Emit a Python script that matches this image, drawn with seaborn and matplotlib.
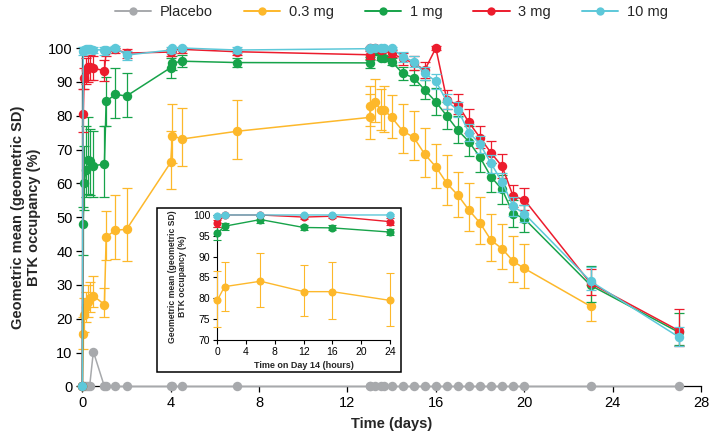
import numpy as np
import pandas as pd
import matplotlib
matplotlib.use('Agg')
import matplotlib.pyplot as plt
from matplotlib.lines import Line2D
from matplotlib.patches import Rectangle
import seaborn as sns

nan = np.nan

# ---- main panel data (days) ----
days = [0, 0.04, 0.08, 0.17, 0.25, 0.33, 0.5, 1.0, 1.08, 1.5, 2.0, 4.0, 4.08, 4.5, 7.0,
        13.0, 13.04, 13.25, 13.5, 13.67, 14.0, 14.5, 15.0, 15.5, 16.0, 16.5, 17.0, 17.5,
        18.0, 18.5, 19.0, 19.5, 20.0, 23.0, 27.0]

placebo = [0, 0, 0, 0, 0, 0, 10.3, 0, 0, 0, 0, 0, 0, 0, 0,
           0, 0, 0, 0, 0, 0, 0, 0, 0, 0, 0, 0, 0,
           0, 0, 0, 0, 0, 0, 0]

dose03 = [0, 15.6, 21.0, 23.5, 25.0, 26.0, 26.8, 24.2, 44.2, 46.2, 46.4, 66.2, 74.1, 73.1, 75.4,
          79.5, 82.8, 84.1, 81.6, 81.6, 79.5, 75.5, 73.6, 68.6, 64.9, 60.0, 56.5, 52.1,
          48.3, 43.2, 40.7, 37.0, 34.9, 23.7, nan]
dose03_lo = [nan, 11.0, 16.0, 19.0, 20.5, 22.0, 23.5, 20.5, 37.3, 37.8, 37.0, 58.2, 66.0, 65.2, 67.3,
             73.2, 77.0, 78.0, 75.8, 75.1, 73.4, 69.0, 67.0, 62.0, 58.6, 53.5, 50.0, 46.0,
             42.0, 37.0, 34.6, 31.0, 29.0, 19.3, nan]
dose03_hi = [nan, 20.5, 26.0, 28.0, 30.0, 31.0, 32.5, 29.0, 51.9, 56.5, 58.5, 75.5, 83.6, 82.3, 84.6,
             86.5, 88.8, 90.9, 87.9, 88.8, 86.0, 83.5, 81.5, 76.5, 71.6, 68.3, 63.4, 60.1,
             56.0, 51.0, 48.0, 44.5, 42.0, 29.9, nan]

dose1 = [0, 48.0, 60.0, 64.0, 67.0, 66.5, 65.2, 65.7, 84.3, 86.3, 85.8, 94.2, 95.5, 96.1, 95.7,
         95.6, 97.3, 99.0, 97.1, 97.0, 96.0, 92.5, 91.2, 87.6, 84.1, 79.9, 75.7, 72.3,
         67.7, 61.9, 58.2, 51.1, 49.6, 29.9, 16.0]
dose1_lo = [nan, 38.7, 52.0, 56.0, 57.0, 56.5, 56.0, 56.0, 76.9, 79.2, 79.7, 91.2, 93.5, 94.3, 94.3,
            94.0, 96.5, 98.0, 96.5, 96.3, 95.0, 90.5, 89.0, 85.0, 80.2, 76.0, 72.0, 68.0,
            63.5, 57.5, 54.0, 47.0, 45.5, 24.9, 12.4]
dose1_hi = [nan, 53.0, 71.0, 77.0, 79.5, 76.0, 75.5, 77.0, 91.5, 94.0, 92.5, 97.0, 97.5, 98.0, 97.0,
            97.3, 98.2, 99.8, 97.8, 97.6, 97.0, 94.5, 93.5, 90.5, 88.1, 84.0, 80.0, 77.0,
            72.0, 66.0, 62.5, 55.0, 53.5, 35.6, 21.6]

dose3 = [0, 80.6, 91.2, 93.5, 94.3, 94.5, 94.0, 93.3, 99.0, 99.6, 98.5, 98.8, 99.5, 99.6, 98.9,
         98.0, 100.0, 100.0, 99.5, 99.7, 98.4, 96.9, 95.5, 93.5, 100.0, 84.6, 83.2, 78.0,
         73.5, 69.0, 65.0, 56.2, 55.2, 30.5, 16.5]
dose3_lo = [nan, 75.2, 88.0, 89.5, 90.0, 90.5, 90.5, 90.2, 97.5, 98.5, 97.0, 97.5, 98.5, 98.5, 97.8,
            96.8, 99.6, 99.6, 98.8, 99.1, 97.2, 95.0, 93.5, 91.0, 99.5, 82.0, 80.5, 75.0,
            70.5, 66.0, 61.5, 53.0, 52.0, 26.9, 12.0]
dose3_hi = [nan, 88.0, 94.0, 97.0, 97.5, 98.0, 97.5, 96.4, 100.0, 100.0, 99.8, 99.8, 100.0, 100.0, 99.8,
            99.0, 100.3, 100.3, 100.0, 100.2, 99.5, 98.5, 97.5, 96.0, 100.5, 87.5, 86.5, 82.0,
            77.0, 72.5, 68.6, 59.5, 58.5, 34.8, 23.0]

dose10 = [0, 99.2, 99.5, 99.6, 99.6, 99.6, 99.5, 99.4, 99.5, 100.0, 97.9, 99.4, 99.9, 100.0, 99.4,
          99.8, 100.0, 100.0, 100.0, 100.0, 100.0, 97.4, 96.0, 92.5, 90.2, 84.2, 81.7, 75.0,
          71.6, 65.9, 60.4, 53.2, 51.1, 31.1, 14.6]
dose10_lo = [nan, 98.0, 98.5, 98.5, 98.5, 98.5, 98.5, 98.0, 98.5, 99.3, 96.5, 98.5, 99.3, 99.5, 98.5,
             99.3, 99.6, 99.6, 99.6, 99.6, 99.6, 96.0, 94.5, 90.5, 88.0, 82.0, 79.5, 72.5,
             69.0, 63.0, 57.5, 50.5, 48.5, 28.4, 11.9]
dose10_hi = [nan, 100.2, 100.3, 100.3, 100.3, 100.3, 100.3, 100.2, 100.3, 100.5, 99.2, 100.2, 100.4, 100.4, 100.2,
             100.3, 100.3, 100.3, 100.3, 100.3, 100.3, 98.8, 97.5, 94.5, 92.3, 86.5, 84.0, 77.5,
             74.0, 68.5, 63.0, 56.0, 53.7, 35.3, 17.5]

# ---- inset data (hours on day 14) ----
hours = [0, 1, 6, 12, 16, 24]
in03 = [79.5, 82.8, 84.1, 81.6, 81.6, 79.5]
in03_lo = [73.2, 77.0, 78.0, 75.8, 75.1, 73.4]
in03_hi = [86.5, 88.8, 90.9, 87.9, 88.8, 86.0]
in1 = [95.6, 97.3, 98.9, 97.0, 96.9, 95.9]
in1_lo = [94.0, 96.5, 98.1, 96.4, 96.3, 95.2]
in1_hi = [97.2, 98.1, 99.7, 97.6, 97.5, 96.6]
in3 = [98.0, 100.0, 100.0, 99.5, 99.7, 98.4]
in3_lo = [97.2, 99.7, 99.7, 99.1, 99.3, 97.6]
in3_hi = [98.8, 100.2, 100.2, 99.9, 100.1, 99.2]
in10 = [99.8, 100.0, 100.0, 100.0, 100.0, 100.0]
in10_lo = [99.5, 99.8, 99.8, 99.8, 99.8, 99.8]
in10_hi = [100.1, 100.2, 100.2, 100.2, 100.2, 100.2]

labels = ['Placebo', '0.3 mg', '1 mg', '3 mg', '10 mg']
colors = ['#a7a9ac', '#fdb82b', '#17a34a', '#ec1c2d', '#5dc8d9']


def long_frame(x, series):
    parts = []
    for lab, (v, lo, hi) in zip(labels, series):
        parts.append(pd.DataFrame({'x': x, 'occ': v, 'lo': lo, 'hi': hi, 'dose': lab}))
    return pd.concat(parts, ignore_index=True)


none = [nan] * len(days)
main_df = long_frame(days, [(placebo, none, none), (dose03, dose03_lo, dose03_hi),
                            (dose1, dose1_lo, dose1_hi), (dose3, dose3_lo, dose3_hi),
                            (dose10, dose10_lo, dose10_hi)])
inset_df = long_frame(hours, [([nan] * 6, [nan] * 6, [nan] * 6), (in03, in03_lo, in03_hi),
                              (in1, in1_lo, in1_hi), (in3, in3_lo, in3_hi),
                              (in10, in10_lo, in10_hi)])


def draw(ax, df, ms, lw, cap, elw):
    for i, (lab, col) in enumerate(zip(labels, colors)):
        sub = df[df['dose'] == lab].dropna(subset=['occ'])
        if sub.empty:
            continue
        err = sub.dropna(subset=['lo'])
        if not err.empty:
            ax.errorbar(err['x'], err['occ'],
                        yerr=[err['occ'] - err['lo'], err['hi'] - err['occ']],
                        fmt='none', ecolor=col, elinewidth=elw, capsize=cap,
                        capthick=elw, zorder=2 + 2 * i)
        sns.lineplot(data=sub, x='x', y='occ', color=col, marker='o', markersize=ms,
                     markeredgewidth=0, linewidth=lw, estimator=None, sort=False,
                     ax=ax, zorder=3 + 2 * i)
    for art in ax.lines + ax.collections:
        art.set_clip_on(False)


sns.set_style('ticks')
plt.rcParams['font.family'] = ['Liberation Sans', 'DejaVu Sans']

fig = plt.figure(figsize=(7.09, 4.42), dpi=100)
ax = fig.add_axes([0.1161, 0.1256, 0.8726, 0.7658])
draw(ax, main_df, ms=6.8, lw=1.1, cap=3.6, elw=0.9)

ax.set_xlim(0, 28)
ax.set_ylim(0, 100)
ax.set_xticks(range(0, 29, 4))
ax.set_yticks(range(0, 101, 10))
sns.despine(ax=ax)
ax.tick_params(direction='out', length=4, width=0.9, labelsize=10.5, pad=3, colors='black')
for sp in ax.spines.values():
    sp.set_linewidth(0.9)
    sp.set_color('black')
ax.set_xlabel('Time (days)', fontsize=10.5, fontweight='bold', labelpad=5)
ax.set_ylabel('Geometric mean (geometric SD)\nBTK occupancy (%)', fontsize=10.5,
              fontweight='bold', labelpad=5)

# inset frame + axes
fig.add_artist(Rectangle((0.2214, 0.1584), 0.3441, 0.3710, transform=fig.transFigure,
                         facecolor='white', edgecolor='black', linewidth=1.1, zorder=5))
inax = fig.add_axes([0.3065, 0.2308, 0.2436, 0.2866])
inax.set_zorder(6)
inax.patch.set_alpha(0)
draw(inax, inset_df, ms=5.8, lw=1.0, cap=2.6, elw=0.8)
inax.set_xlim(0, 24)
inax.set_ylim(70, 100.4)
inax.set_xticks(range(0, 25, 4))
inax.set_yticks(range(70, 101, 5))
sns.despine(ax=inax)
inax.tick_params(direction='out', length=3, width=0.8, labelsize=7.5, pad=2, colors='black')
for sp in inax.spines.values():
    sp.set_linewidth(0.8)
    sp.set_color('black')
inax.set_xlabel('Time on Day 14 (hours)', fontsize=6.5, fontweight='bold', labelpad=3)
inax.set_ylabel('Geometric mean (geometric SD)\nBTK occupancy (%)', fontsize=6.2,
                fontweight='bold', labelpad=4)

handles = [Line2D([], [], color=c, marker='o', markersize=6, markeredgewidth=0, linewidth=1.4)
           for c in colors]
fig.legend(handles, labels, loc='center', bbox_to_anchor=(0.552, 0.973), ncol=5,
           frameon=False, fontsize=10.5, handlelength=2.5, handletextpad=0.6,
           columnspacing=2.1)

fig.savefig('out.png', dpi=100)
plt.close(fig)
